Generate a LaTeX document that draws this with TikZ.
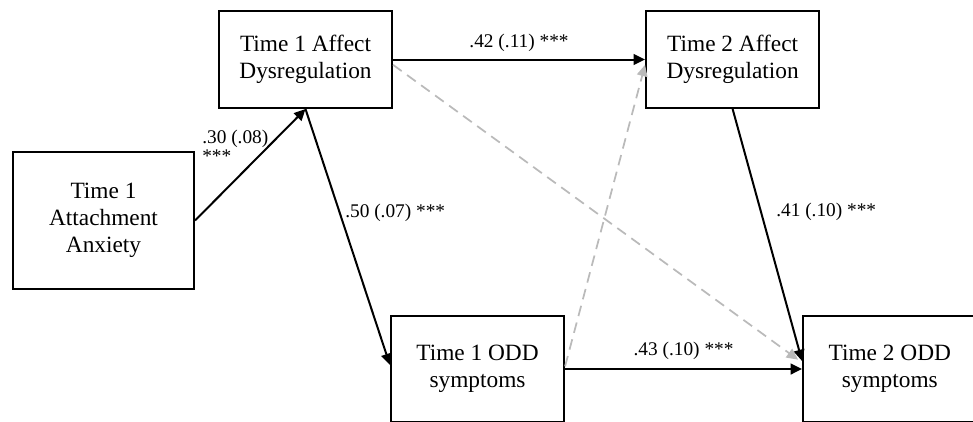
\documentclass[tikz,border=0pt]{standalone}
\usepackage{fontspec}
\setmainfont{Liberation Serif}
\usetikzlibrary{arrows.meta,positioning}

\begin{document}
\begin{tikzpicture}[
    x=0.75pt,y=-0.75pt,
    box/.style={draw,line width=1.6pt,minimum width=129.75pt,
      minimum height=72.75pt,inner sep=0pt,align=center,
      font=\fontsize{17.5pt}{20.25pt}\selectfont},
    lab/.style={inner sep=0pt,font=\fontsize{14.5pt}{14pt}\selectfont},
    flow/.style={-{Triangle[length=8.5pt,width=8pt]},line width=1.5pt},
    weak/.style={-{Triangle[length=8.5pt,width=8pt]},line width=1.3pt,
      draw=black!27,dash pattern=on 8pt off 5pt}
  ]
    \useasboundingbox (0,0) rectangle (973,421);
    \node[box,minimum width=135.75pt,minimum height=102.75pt] (att) at (103.5,220.5) {Time 1\\Attachment\\Anxiety};
    \node[box] (aff1) at (305.5,59.5) {Time 1 Affect\\Dysregulation};
    \node[box,right=189pt of aff1] (aff2) {Time 2 Affect\\Dysregulation};
    \node[box,minimum height=79.5pt] (odd1) at (477.5,369) {Time 1 ODD\\symptoms};
    \node[box,minimum height=79.5pt,minimum width=130pt,right=177.75pt of odd1] (odd2) {Time 2 ODD\\symptoms};
    \draw[flow] (att.east) -- (aff1.south);
    \draw[flow] (aff1) -- node[lab,above=5pt] (l42) {.42 (.11) ***} (aff2);
    \draw[flow] (aff1.south) -- ([yshift=3pt]odd1.west);
    \draw[flow] (aff2.south) -- ([yshift=6pt]odd2.west);
    \draw[flow] (odd1) -- node[lab,above=6pt] (l43) {.43 (.10) ***} (odd2);
    \draw[weak] ([yshift=-4pt]aff1.east) -- ([xshift=-3pt,yshift=7pt]odd2.west);
    \draw[weak] ([yshift=2pt]odd1.east) -- ([yshift=-4pt]aff2.west);
    \node[lab,align=left,anchor=west] (l30) at (202,146) {.30 (.08)\\***};
    \node[lab,anchor=west] (l50) at (345,213) {.50 (.07) ***};
    \node[lab,anchor=west] (l41) at (776,212) {.41 (.10) ***};
  \end{tikzpicture}
\end{document}
